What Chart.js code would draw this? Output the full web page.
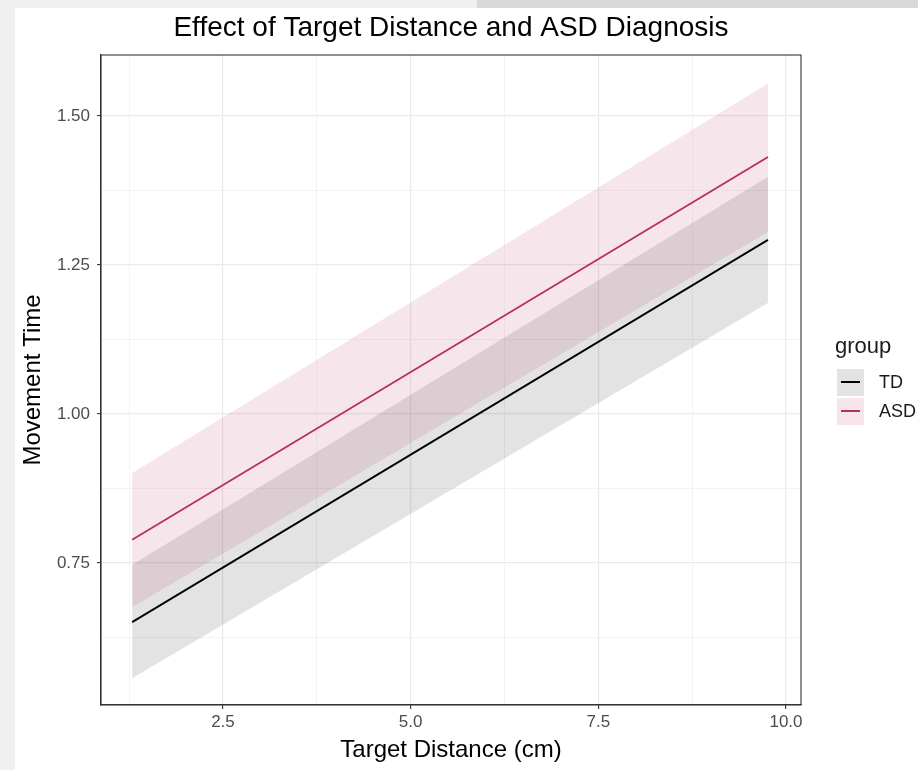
<!DOCTYPE html>
<html>
<head>
<meta charset="utf-8">
<script src="https://cdn.jsdelivr.net/npm/chart.js@4"></script>
<style>
  body { margin: 0; background: #fff; font-family: "Liberation Sans", Arial, sans-serif; }
  #wrap { position: relative; width: 918px; height: 770px; overflow: hidden; }
  .strip { position: absolute; }
  #stripLeft { left: 0; top: 0; width: 15px; height: 770px; background: #f0f0f0; }
  #stripTopA { left: 0; top: 0; width: 477px; height: 8px; background: #f0f0f0; }
  #stripTopB { left: 477px; top: 0; width: 441px; height: 8px; background: #d9d9d9; }
  canvas#plot { position: absolute; left: 0; top: 0; }
  #legend { position: absolute; left: 835px; top: 333px; color: #1a1a1a; }
  #legend .title { font-size: 22px; height: 26px; line-height: 26px; margin-bottom: 9px; }
  #legend .row { display: flex; align-items: center; height: 29px; }
  #legend .key { position: relative; width: 27px; height: 27px; margin-left: 2px; margin-right: 15px; }
  #legend .key span { position: absolute; left: 4px; right: 4px; top: 12px; height: 2px; }
  #legend .lab { font-size: 18px; }
</style>
</head>
<body>
<div id="wrap">
  <div class="strip" id="stripLeft"></div>
  <div class="strip" id="stripTopA"></div>
  <div class="strip" id="stripTopB"></div>
  <canvas id="plot" width="902" height="770"></canvas>
  <div id="legend"></div>
</div>
<script>
// model predictions, start and end of the distance range
const distance = [1.29, 9.76];
const tdFit = [0.651, 1.292];
const tdLower = [0.557, 1.186];
const tdUpper = [0.747, 1.398];
const asdFit = [0.789, 1.431];
const asdLower = [0.676, 1.305];
const asdUpper = [0.901, 1.554];

const groups = ['TD', 'ASD'];
const lineColors = ['#000000', '#b5305e'];
const bandColors = ['rgba(0,0,0,0.11)', 'rgba(181,48,94,0.12)'];

// axis breaks
const xMajor = [2.5, 5.0, 7.5, 10.0];
const xMinor = [1.25, 3.75, 6.25, 8.75];
const yMajor = [0.75, 1.00, 1.25, 1.50];
const yMinor = [0.625, 0.875, 1.125, 1.375];

const plotTitle = 'Effect of Target Distance and ASD Diagnosis';

const pts = ys => distance.map((x, i) => ({ x: x, y: ys[i] }));
const isMajor = (list, v) => list.some(m => Math.abs(m - v) < 1e-9);

const bandSet = (ys, color, fill) => ({
  data: pts(ys), fill: fill, backgroundColor: color, borderWidth: 0, pointRadius: 0
});
const lineSet = (ys, color) => ({
  data: pts(ys), fill: false, borderColor: color, borderWidth: 1.8, pointRadius: 0
});

const datasets = [
  bandSet(tdUpper, bandColors[0], '+1'),
  bandSet(tdLower, bandColors[0], false),
  bandSet(asdUpper, bandColors[1], '+1'),
  bandSet(asdLower, bandColors[1], false),
  lineSet(tdFit, lineColors[0]),
  lineSet(asdFit, lineColors[1])
];

function gridOpts(list) {
  return {
    color: '#ebebeb',
    lineWidth: c => isMajor(list, c.tick.value) ? 1.2 : 0.6,
    tickColor: c => isMajor(list, c.tick.value) ? '#333333' : 'rgba(0,0,0,0)',
    tickLength: 4,
    tickWidth: 1.1
  };
}

// panel border on all four sides, title centred over the panel
const panelFrame = {
  id: 'panelFrame',
  afterDraw(chart) {
    const a = chart.chartArea, ctx = chart.ctx;
    ctx.save();
    ctx.strokeStyle = '#333333';
    ctx.lineWidth = 1.1;
    ctx.strokeRect(a.left, a.top, a.right - a.left, a.bottom - a.top);
    ctx.fillStyle = '#000';
    ctx.font = '28px "Liberation Sans"';
    ctx.textAlign = 'center';
    ctx.textBaseline = 'middle';
    ctx.fillText(plotTitle, (a.left + a.right) / 2, 28);
    ctx.restore();
  }
};

new Chart(document.getElementById('plot').getContext('2d'), {
  type: 'line',
  data: { datasets: datasets },
  plugins: [panelFrame],
  options: {
    responsive: false,
    animation: false,
    layout: { padding: { left: 0, right: 101, top: 55, bottom: 0 } },
    plugins: {
      legend: { display: false },
      tooltip: { enabled: false },
      title: { display: false }
    },
    scales: {
      x: {
        type: 'linear',
        min: 0.875,
        max: 10.2,
        afterBuildTicks: ax => { ax.ticks = xMinor.concat(xMajor).sort((a, b) => a - b).map(v => ({ value: v })); },
        afterFit: ax => { ax.height = 65; },
        grid: gridOpts(xMajor),
        border: { color: '#333333', width: 1.1 },
        ticks: {
          autoSkip: false,
          maxRotation: 0,
          padding: 3,
          color: '#4d4d4d',
          font: { family: 'Liberation Sans', size: 17 },
          callback: v => isMajor(xMajor, v) ? v.toFixed(1) : ''
        },
        title: {
          display: true,
          text: 'Target Distance (cm)',
          color: '#000',
          font: { family: 'Liberation Sans', size: 24, lineHeight: 1.2 },
          padding: { top: 0, bottom: 5.6 }
        }
      },
      y: {
        type: 'linear',
        min: 0.512,
        max: 1.602,
        afterBuildTicks: ax => { ax.ticks = yMinor.concat(yMajor).sort((a, b) => a - b).map(v => ({ value: v })); },
        afterFit: ax => { ax.width = 101; },
        grid: gridOpts(yMajor),
        border: { color: '#333333', width: 1.1 },
        ticks: {
          autoSkip: false,
          padding: 7,
          color: '#4d4d4d',
          font: { family: 'Liberation Sans', size: 17 },
          callback: v => isMajor(yMajor, v) ? v.toFixed(2) : ''
        },
        title: {
          display: true,
          text: 'Movement Time',
          color: '#000',
          font: { family: 'Liberation Sans', size: 24, lineHeight: 1.2 },
          padding: { top: 19, bottom: 0 }
        }
      }
    }
  }
});

// legend keys: ribbon swatch with the fitted line across it
const legend = document.getElementById('legend');
legend.innerHTML = '<div class="title">group</div>' + groups.map((g, i) =>
  '<div class="row"><div class="key" style="background:' + bandColors[i] + '">' +
  '<span style="background:' + lineColors[i] + '"></span></div>' +
  '<div class="lab">' + g + '</div></div>').join('');
</script>
</body>
</html>
